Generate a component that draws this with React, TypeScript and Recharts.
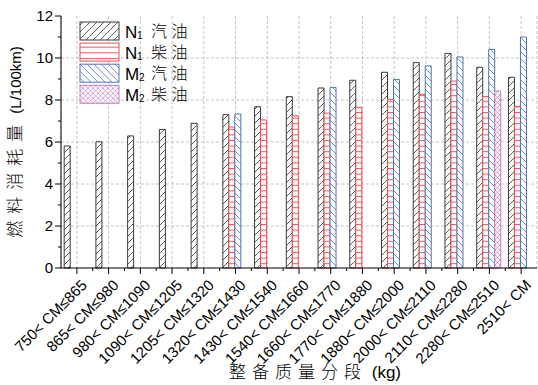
import React from "react";
import { Bar, BarChart, CartesianGrid, Legend, XAxis, YAxis } from "recharts";

const FONT = "'Liberation Sans', Arial, 'Noto Sans CJK SC', sans-serif";
const CJK = "'Noto Sans CJK SC', sans-serif";

const categories = [
  "750< CM≤865", "865< CM≤980", "980< CM≤1090", "1090< CM≤1205", "1205< CM≤1320",
  "1320< CM≤1430", "1430< CM≤1540", "1540< CM≤1660", "1660< CM≤1770", "1770< CM≤1880",
  "1880< CM≤2000", "2000< CM≤2110", "2110< CM≤2280", "2280< CM≤2510", "2510< CM",
];

const n1Gasoline = [5.81, 6.01, 6.29, 6.6, 6.89, 7.3, 7.68, 8.16, 8.57, 8.94, 9.32, 9.78, 10.22, 9.56, 9.08];
const n1Diesel = [null, null, null, null, null, 6.71, 7.05, 7.25, 7.37, 7.65, 8.03, 8.27, 8.9, 8.16, 7.7];
const m2Gasoline = [null, null, null, null, null, 7.33, null, null, 8.6, null, 8.98, 9.62, 10.05, 10.41, 11.0];
const m2Diesel = [null, null, null, null, null, null, null, null, null, null, null, null, null, 8.43, null];

const yTicks = [0, 1, 2, 3, 4, 5, 6, 7, 8, 9, 10, 11, 12];
const gridValues = [2, 4, 6, 8, 10];

// legend text pieces per series
const series = [
  { key: "n1g", letter: "N", sub: "1", fuel: "汽 油", fill: "url(#pN1g)", stroke: "#3a3a3a" },
  { key: "n1d", letter: "N", sub: "1", fuel: "柴 油", fill: "url(#pN1d)", stroke: "#f04a4a" },
  { key: "m2g", letter: "M", sub: "2", fuel: "汽 油", fill: "url(#pM2g)", stroke: "#4a72c4" },
  { key: "m2d", letter: "M", sub: "2", fuel: "柴 油", fill: "url(#pM2d)", stroke: "#c47cc4" },
];

const data = categories.map((name, i) => ({
  name,
  n1g: n1Gasoline[i],
  n1d: n1Diesel[i],
  m2g: m2Gasoline[i],
  m2d: m2Diesel[i],
}));

function Patterns() {
  return (
    <defs>
      <pattern id="pN1g" patternUnits="userSpaceOnUse" width="7" height="7">
        <rect width="7" height="7" fill="#fff" />
        <path d="M-1,1 L1,-1 M0,7 L7,0 M6,8 L8,6" stroke="#333" strokeWidth="0.8" />
      </pattern>
      <pattern id="pN1d" patternUnits="userSpaceOnUse" width="6" height="5.6">
        <rect width="6" height="5.6" fill="#fff" />
        <path d="M0,0.5 L6,0.5" stroke="#f05a5a" strokeWidth="1" />
      </pattern>
      <pattern id="pM2g" patternUnits="userSpaceOnUse" width="7" height="7">
        <rect width="7" height="7" fill="#fff" />
        <path d="M-1,6 L1,8 M0,0 L7,7 M6,-1 L8,1" stroke="#4a72c4" strokeWidth="0.8" />
      </pattern>
      <pattern id="pM2d" patternUnits="userSpaceOnUse" width="5" height="5">
        <rect width="5" height="5" fill="#fff" />
        <path d="M0,0 L5,5 M0,5 L5,0" stroke="#c47cc4" strokeWidth="0.7" />
      </pattern>
    </defs>
  );
}

const YTick = (props: any) => {
  const { x, y, payload } = props;
  const major = payload.value % 2 === 0;
  return (
    <g>
      <line x1={x} x2={x - (major ? 6 : 3)} y1={y} y2={y} stroke="#000" />
      {major && (
        <text x={x - 8} y={y} dy="0.36em" textAnchor="end" fontSize={15} fontFamily={FONT} fill="#000">
          {payload.value}
        </text>
      )}
    </g>
  );
};

const XTick = (props: any) => {
  const { x, y, payload } = props;
  const half = payload.offset ?? 0;
  const tx = x + 11;
  const ty = y + 18;
  return (
    <g>
      <line x1={x} x2={x} y1={y} y2={y + 6} stroke="#000" />
      {payload.index > 0 && half > 0 && (
        <line x1={x - half} x2={x - half} y1={y} y2={y + 3} stroke="#000" />
      )}
      <text x={tx} y={ty} textAnchor="end" transform={`rotate(-45 ${tx} ${ty})`} fontSize={15} fontFamily={FONT} fill="#000">
        {payload.value}
      </text>
    </g>
  );
};

const YTitle = (props: any) => {
  const { x, y, height } = props.viewBox;
  const cx = x + 21;
  const cy = y + height / 2;
  return (
    <text x={cx} y={cy} textAnchor="middle" transform={`rotate(-90 ${cx} ${cy})`} fill="#000">
      <tspan fontSize={17} letterSpacing={7} fontFamily={CJK} fontWeight={300}>燃料消耗量</tspan>
      <tspan fontSize={15} fontFamily={FONT}> (L/100km)</tspan>
    </text>
  );
};

const XTitle = (props: any) => {
  const { x, y, width } = props.viewBox;
  return (
    <text x={x + width / 2 + 16} y={y + 110} textAnchor="middle" fill="#000">
      <tspan fontSize={17} letterSpacing={6} fontFamily={CJK} fontWeight={300}>整备质量分段</tspan>
      <tspan fontSize={17} fontFamily={FONT}> (kg)</tspan>
    </text>
  );
};

const LegendBox = (props: any) => {
  const keys = (props.payload || []).map((p: any) => p.dataKey);
  const items = series.filter((s) => keys.includes(s.key));
  return (
    <svg width={140} height={92} style={{ display: "block" }}>
      {items.map((s, i) => (
        <g key={s.key} transform={`translate(0, ${i * 21.1})`}>
          <rect x={2} y={2} width={39} height={18} fill={s.fill} stroke={s.stroke} />
          <text x={47} y={18} fontSize={17} fontFamily={FONT} fill="#000">{s.letter}</text>
          <text x={47 + (s.letter === "M" ? 14 : 12)} y={19} fontSize={10} fontFamily={FONT} fill="#000">{s.sub}</text>
          <text x={73} y={17} fontSize={16} fontFamily={FONT} fontWeight={300} fill="#000">{s.fuel}</text>
        </g>
      ))}
    </svg>
  );
};

export default function App() {
  return (
    <div style={{ width: 538, height: 385, background: "#fff" }}>
      <style>{"body{margin:0}"}</style>
      <BarChart
        width={538}
        height={385}
        data={data}
        margin={{ top: 16, right: 1, bottom: 0, left: 0 }}
        barCategoryGap="10%"
        barGap={0}
      >
        <Patterns />
        <CartesianGrid stroke="#c4c4c4" strokeDasharray="3 2" horizontalValues={gridValues} />
        <XAxis
          dataKey="name"
          interval={0}
          height={117}
          tickSize={0}
          tickMargin={0}
          tickLine={false}
          tick={<XTick />}
          axisLine={{ stroke: "#000" }}
          label={<XTitle />}
        />
        <XAxis xAxisId="top" orientation="top" dataKey="name" height={0} tick={false} tickLine={false} axisLine={{ stroke: "#444" }} />
        <YAxis
          domain={[0, 12]}
          ticks={yTicks}
          interval={0}
          width={61}
          tickSize={0}
          tickMargin={0}
          tickLine={false}
          tick={<YTick />}
          axisLine={{ stroke: "#000" }}
          label={<YTitle />}
        />
        <YAxis yAxisId="right" orientation="right" domain={[0, 12]} width={0} tick={false} tickLine={false} axisLine={{ stroke: "#444" }} />
        <Legend
          layout="vertical"
          align="center"
          verticalAlign="middle"
          content={<LegendBox />}
          wrapperStyle={{ top: 20, left: 78, width: 140, height: 92 }}
        />
        {series.map((s) => (
          <Bar key={s.key} dataKey={s.key} fill={s.fill} stroke={s.stroke} strokeWidth={1} isAnimationActive={false} />
        ))}
      </BarChart>
    </div>
  );
}
